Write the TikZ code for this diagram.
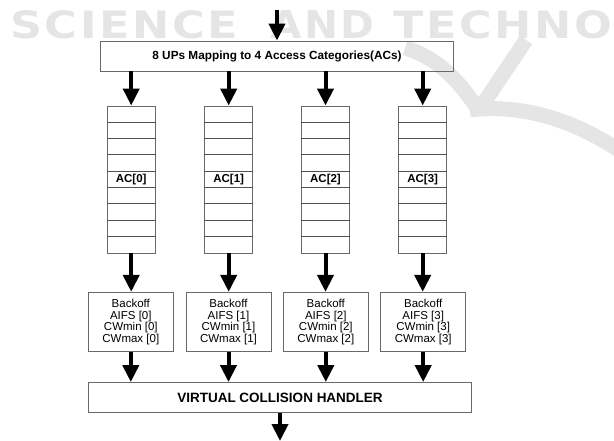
\documentclass[tikz,border=0pt]{standalone}
\usepackage{fontspec}
\setmainfont{Liberation Sans}
\newfontfamily\wmfont{DejaVu Sans}[LetterSpace=6]
\usetikzlibrary{arrows.meta}
\definecolor{wm}{RGB}{229,229,229}
\definecolor{boxline}{RGB}{105,105,105}
\definecolor{cellline}{RGB}{80,80,80}
\tikzset{
  flow/.style={line width=4pt, -{Triangle[length=17pt,width=16pt]}},
  frame/.style={draw=boxline, line width=0.9pt, inner sep=0pt},
  queue/.style={frame, minimum width=48pt, minimum height=147pt,
    font=\bfseries\fontsize{11.5}{13}\selectfont},
  backoff/.style={frame, minimum width=85pt, minimum height=59.4pt, align=center,
    font=\fontsize{11.5}{11.7}\selectfont},
  cell/.style={draw=cellline, line width=0.7pt},
  wmtext/.style={inner sep=0pt, anchor=south west, text=wm},
  wmband/.style={draw=wm, line width=15pt},
}
\begin{document}
\begin{tikzpicture}[x=1pt,y=-1pt]
\useasboundingbox (0,0) rectangle (614,441);
\begin{scope}
\clip (0,0) rectangle (614,441);
% watermark
\node[wmtext] (wm1) at (10,39) {\resizebox{228pt}{28pt}{\wmfont\bfseries SCIENCE}};
\node[wmtext] (wm2) at (270,39) {\resizebox{104pt}{28pt}{\wmfont\bfseries AND}};
\node[wmtext] (wm3) at (393,39) {\resizebox{219pt}{28pt}{\wmfont\bfseries TECHNO}};
\draw[wmband] (405,48) .. controls (440,58) and (462,85) .. (479,111);
\draw[wmband] (470,110) .. controls (520,104) and (575,118) .. (630,158);
\draw[wmband] (526,40) -- (481,107);
\end{scope}

% top box
\node[frame, minimum width=352.6pt, minimum height=30pt,
  font=\bfseries\fontsize{11.8}{14}\selectfont] (map) at (277,56)
  {8 UPs Mapping to 4 Access Categories(ACs)};

% queues
\node[queue] (q0) at (131.2,179.5) {AC[0]};
\node[queue] (q1) at (228.7,179.5) {AC[1]};
\node[queue] (q2) at (325.5,179.5) {AC[2]};
\node[queue] (q3) at (422.7,179.5) {AC[3]};
\foreach \i in {0,...,3}{
  \foreach \k in {1,...,8}{
    \draw[cell] ([yshift=-\k*16.333pt]q\i.north west) -- ([yshift=-\k*16.333pt]q\i.north east);
  }
}

% backoff boxes
\node[backoff] (b0) at (130.8,322) {Backoff\\AIFS [0]\\CWmin [0]\\CWmax [0]};
\node[backoff] (b1) at (228.5,322) {Backoff\\AIFS [1]\\CWmin [1]\\CWmax [1]};
\node[backoff] (b2) at (325.8,322) {Backoff\\AIFS [2]\\CWmin [2]\\CWmax [2]};
\node[backoff] (b3) at (423.2,322) {Backoff\\AIFS [3]\\CWmin [3]\\CWmax [3]};

% collision handler
\node[frame, minimum width=383.4pt, minimum height=30pt,
  font=\bfseries\fontsize{13.5}{16}\selectfont] (vch) at (280,397.5)
  {VIRTUAL COLLISION HANDLER};

% connectors
\coordinate (in) at (277,10);
\coordinate (out) at (280,441);
\draw[flow] (in) -- (in |- map.north);
\foreach \i in {0,...,3}{
  \draw[flow] (map.south -| q\i.north) -- (q\i.north);
  \draw[flow] (q\i.south) -- (q\i.south |- b\i.north);
  \draw[flow] (b\i.south) -- (b\i.south |- vch.north);
}
\draw[flow] (vch.south -| out) -- (out);
\end{tikzpicture}
\end{document}
